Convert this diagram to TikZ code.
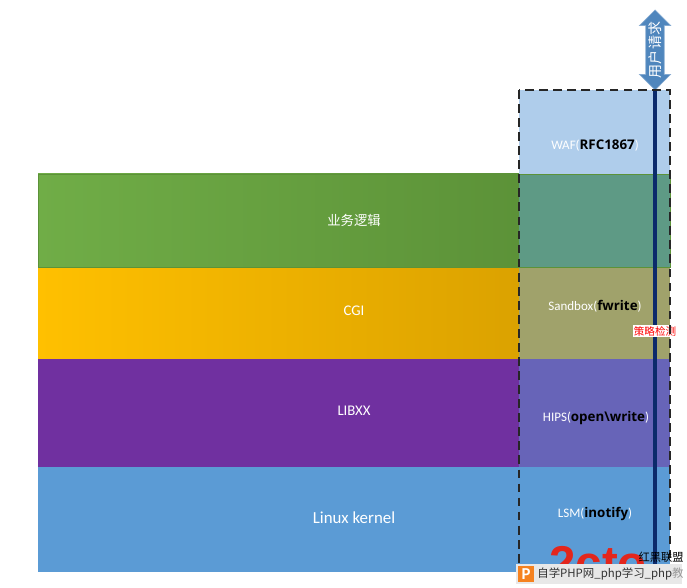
\documentclass[tikz,border=0pt]{standalone}
\usepackage{xcolor}
\usepackage{fontspec}
\usepackage{tikz}
\usetikzlibrary{shapes.arrows}
\setmainfont{Carlito}
\newfontfamily\cjk{Noto Sans CJK SC}
\newfontfamily\boldlatin{Open Sans}
\newfontfamily\logofont{Liberation Sans}
\definecolor{wafblue}{HTML}{AFCDEB}
\definecolor{greenL}{HTML}{70AD47}
\definecolor{greenR}{HTML}{5C9238}
\definecolor{greenMix}{HTML}{5E9A85}
\definecolor{yellowL}{HTML}{FFC000}
\definecolor{yellowR}{HTML}{DBA200}
\definecolor{yellowMix}{HTML}{A0A26B}
\definecolor{purpleBand}{HTML}{7030A0}
\definecolor{purpleMix}{HTML}{6764B8}
\definecolor{kernelBlue}{HTML}{5B9BD5}
\definecolor{lineNavy}{HTML}{0B2A6B}
\definecolor{arrowBlue}{HTML}{4F86BD}
\definecolor{logoRed}{HTML}{E3261C}
\definecolor{barGrey}{HTML}{E8E8E8}
\definecolor{iconOrange}{HTML}{F58220}
\tikzset{
  bandlabel/.style={text=white, font=\fontsize{8.4}{10}\selectfont},
  hooklabel/.style={text=white, font=\fontsize{7.4}{9}\selectfont, inner sep=0pt},
}
\newcommand{\hookname}[1]{{\color{black}\boldlatin\bfseries\fontsize{7.6}{9}\selectfont #1}}

\begin{document}
\begin{tikzpicture}[x=0.02cm, y=-0.02cm]
  \useasboundingbox (0,0) rectangle (687,588);

  % Layers
  \shade[left color=greenL, right color=greenR] (38,174) rectangle (519,267);
  \shade[left color=yellowL, right color=yellowR] (38,267) rectangle (519,359);
  \fill[purpleBand] (38,359) rectangle (519,467);
  \fill[kernelBlue] (38,467) rectangle (519,572);
  \node[bandlabel, font=\cjk\fontsize{7.6}{10}\selectfont] (logic) at (354,220) {业务逻辑};
  \node[bandlabel] (cgi) at (354,311) {CGI};
  \node[bandlabel] (libxx) at (354,411) {LIBXX};
  \node[bandlabel, font=\fontsize{9.6}{11}\selectfont] (kernel) at (354,518) {Linux kernel};

  % Detection column
  \fill[wafblue] (519,90) rectangle (670,174);
  \fill[greenMix] (519,174) rectangle (670,267);
  \fill[yellowMix] (519,267) rectangle (670,359);
  \fill[purpleMix] (519,359) rectangle (670,467);
  \fill[kernelBlue] (519,467) rectangle (670,572);
  \draw[greenR, line width=0.3pt] (38,174) rectangle (670,267);
  \node[hooklabel] (waf) at (595,146) {WAF(\hookname{RFC1867})};
  \node[hooklabel] (sandbox) at (595,306) {Sandbox(\hookname{fwrite})};
  \node[hooklabel] (hips) at (596,418) {HIPS(\hookname{open\textbackslash write})};
  \node[hooklabel] (lsm) at (595,514) {LSM(\hookname{inotify})};

  % Request path
  \coordinate (pathtop) at (655,90);
  \coordinate (pathend) at (655,566);
  \draw[lineNavy, line width=2.6pt] (pathtop) -- (pathend);
  \node[double arrow, fill=arrowBlue, draw=arrowBlue!70, rotate=90, minimum height=80*0.02cm,
    minimum width=31*0.02cm, double arrow head extend=5*0.02cm, inner sep=0.2pt,
    text=white, font=\cjk\fontsize{8}{9}\selectfont] (request) at (655,50) {用户请求};
  \node[fill=white, text=red, inner sep=0.6pt, font=\cjk\fontsize{6}{8}\selectfont] (policy) at (655,331) {策略检测};
  \draw[black!85, line width=0.8pt, dash pattern=on 5pt off 3pt] (519,90) rectangle (670,572);

  % Watermark
  \node[text=logoRed, inner sep=0pt, anchor=base west, font=\logofont\bfseries\fontsize{27}{27}\selectfont] (logo) at (549,579) {2cto};
  \node[inner sep=0pt, anchor=east, font=\cjk\fontsize{6.4}{8}\selectfont] (union) at (684,557) {红黑联盟};
  \fill[barGrey] (516,564) rectangle (682,584);
  \node[fill=iconOrange, text=white, inner sep=0pt, minimum size=16*0.02cm, font=\bfseries\fontsize{9.5}{10}\selectfont] (icon) at (526,574) {P};
  \node[inner sep=0pt, anchor=west, text=black!80, font=\cjk\fontsize{6.5}{9}\selectfont] (bar) at (537,574) {自学PHP网\_php学习\_php{\color{black!40}教}};
\end{tikzpicture}
\end{document}
